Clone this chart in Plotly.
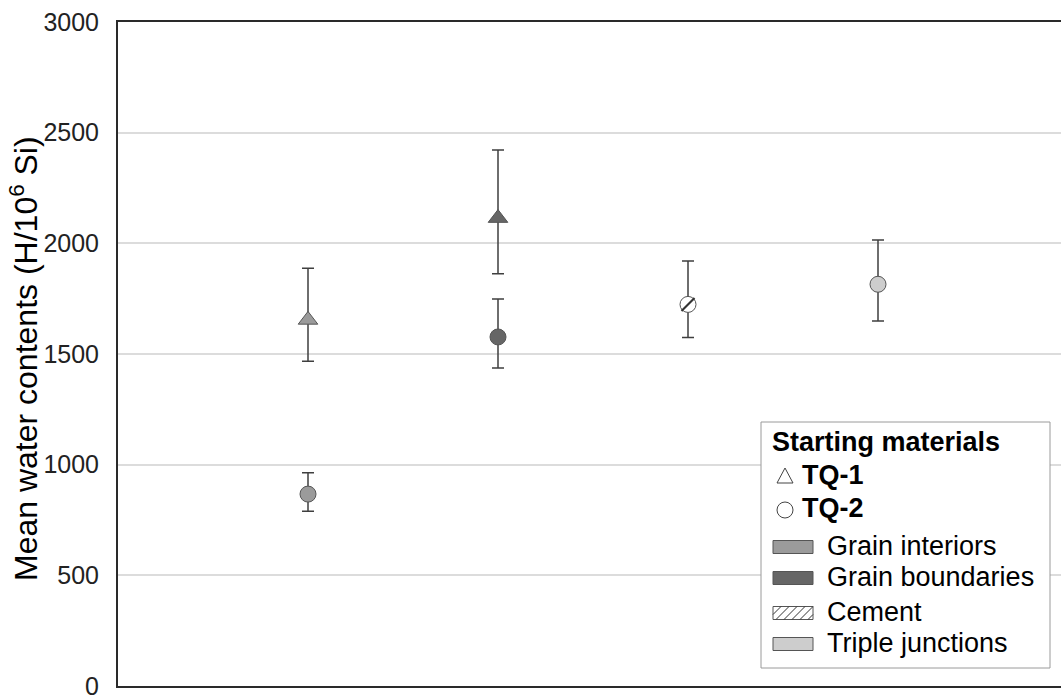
import plotly.graph_objects as go

# ---- data ----
materials = ["Grain interiors", "Grain boundaries", "Cement", "Triple junctions"]
positions = [1, 2, 3, 4]
mat_colors = ["#9b9b9b", "#666666", "#ffffff", "#cdcdcd"]

# TQ-1 (triangles): grain interiors, grain boundaries
tq1_x = [1, 2]
tq1_y = [1654, 2114]
tq1_up = [233, 308]
tq1_dn = [187, 251]
tq1_col = ["#9b9b9b", "#666666"]

# TQ-2 (circles): grain interiors, grain boundaries, cement, triple junctions
tq2_x = [1, 2, 3, 4]
tq2_y = [867, 1577, 1724, 1815]
tq2_up = [97, 171, 196, 200]
tq2_dn = [78, 140, 150, 166]
tq2_col = ["#9b9b9b", "#666666", "#ffffff", "#cdcdcd"]

y_ticks = [0, 500, 1000, 1500, 2000, 2500, 3000]

# ---- geometry helpers (layout only) ----
L, T, B, W, H = 118, 22, 9, 1061, 695
PW = W - L
PH = H - T - B

def px(x):
    return (x - L) / PW

def py(y):
    return (H - B - y) / PH

FONT = "Liberation Sans, Arial, sans-serif"
ERR_COL = "#3f3f3f"
EDGE = "#555555"
LFS = 27

fig = go.Figure()

fig.add_trace(go.Scatter(
    x=tq1_x, y=tq1_y, mode="markers",
    marker=dict(symbol="triangle-up", size=17, color=tq1_col,
                line=dict(color=EDGE, width=1)),
    error_y=dict(type="data", symmetric=False, array=tq1_up, arrayminus=tq1_dn,
                 color=ERR_COL, thickness=1.5, width=6),
    showlegend=False, name="TQ-1"))

fig.add_trace(go.Scatter(
    x=tq2_x, y=tq2_y, mode="markers",
    marker=dict(symbol="circle", size=16, color=tq2_col,
                line=dict(color=EDGE, width=1)),
    error_y=dict(type="data", symmetric=False, array=tq2_up, arrayminus=tq2_dn,
                 color=ERR_COL, thickness=1.5, width=6),
    showlegend=False, name="TQ-2"))

# hatch stroke on the cement marker
fig.add_trace(go.Scatter(
    x=[tq2_x[2]], y=[tq2_y[2]], mode="markers",
    marker=dict(symbol="line-ne", size=13, line=dict(color="#333333", width=2.2)),
    showlegend=False, hoverinfo="skip"))

shapes = []
annotations = []

# legend box
bx0, by0, bx1, by1 = 761, 422, 1050, 668
shapes.append(dict(type="rect", xref="paper", yref="paper",
                   x0=px(bx0), x1=px(bx1), y0=py(by1), y1=py(by0),
                   line=dict(color="#9a9a9a", width=1), fillcolor="white", layer="above"))

annotations.append(dict(xref="paper", yref="paper", x=px(770), y=py(442),
                        xanchor="left", yanchor="middle", showarrow=False,
                        text="<b>Starting materials</b>",
                        font=dict(family=FONT, size=LFS, color="black")))

# TQ-1 open triangle
cx, cy = 785, 476
tri = f"M {px(cx-8)} {py(cy+7)} L {px(cx+8)} {py(cy+7)} L {px(cx)} {py(cy-8)} Z"
shapes.append(dict(type="path", xref="paper", yref="paper", path=tri,
                   line=dict(color="#444444", width=1), fillcolor="white", layer="above"))
annotations.append(dict(xref="paper", yref="paper", x=px(800), y=py(475),
                        xanchor="left", yanchor="middle", showarrow=False,
                        text="<b>TQ-1</b>", font=dict(family=FONT, size=LFS, color="black")))
# TQ-2 open circle
cy = 510
shapes.append(dict(type="circle", xref="paper", yref="paper",
                   x0=px(cx-8), x1=px(cx+8), y0=py(cy+8), y1=py(cy-8),
                   line=dict(color="#444444", width=1), fillcolor="white", layer="above"))
annotations.append(dict(xref="paper", yref="paper", x=px(800), y=py(508),
                        xanchor="left", yanchor="middle", showarrow=False,
                        text="<b>TQ-2</b>", font=dict(family=FONT, size=LFS, color="black")))

# material swatches
row_y = [547, 578, 613, 644]
rx0, rx1 = 773, 813
for name, col, ry in zip(materials, mat_colors, row_y):
    shapes.append(dict(type="rect", xref="paper", yref="paper",
                       x0=px(rx0), x1=px(rx1), y0=py(ry+6.5), y1=py(ry-6.5),
                       line=dict(color="#555555", width=1), fillcolor=col, layer="above"))
    if name == "Cement":
        top, bot = ry - 6.5, ry + 6.5
        h = bot - top
        step = 8
        s = rx0 - h
        while s < rx1:
            xa, ya = s, bot
            xb, yb = s + h, top
            if xa < rx0:
                ya = bot - (rx0 - xa)
                xa = rx0
            if xb > rx1:
                yb = top + (xb - rx1)
                xb = rx1
            if xb > xa:
                shapes.append(dict(type="line", xref="paper", yref="paper",
                                   x0=px(xa), y0=py(ya), x1=px(xb), y1=py(yb),
                                   line=dict(color="#333333", width=1), layer="above"))
            s += step
    annotations.append(dict(xref="paper", yref="paper", x=px(825), y=py(ry - 1),
                            xanchor="left", yanchor="middle", showarrow=False,
                            text=name, font=dict(family=FONT, size=LFS, color="black")))

# y-axis title
annotations.append(dict(xref="paper", yref="paper", x=px(24), y=py(359),
                        xanchor="center", yanchor="middle", showarrow=False, textangle=-90,
                        text="Mean water contents (H/10<sup>6</sup> Si)",
                        font=dict(family=FONT, size=32, color="black")))

fig.update_layout(
    width=W, height=H,
    margin=dict(l=L, r=0, t=T, b=B),
    paper_bgcolor="white", plot_bgcolor="white",
    shapes=shapes, annotations=annotations,
    showlegend=False,
    xaxis=dict(range=[0, PW / 190], showgrid=False, zeroline=False,
               showticklabels=False, ticks="", automargin=False,
               showline=True, mirror=True, linecolor="#2a2a2a", linewidth=2),
    yaxis=dict(range=[0, 3000], tickvals=y_ticks, showgrid=True, gridcolor="#dcdcdc",
               gridwidth=1.5, zeroline=False, ticks="", ticklabelstandoff=12,
               automargin=False, ticklabeloverflow="allow",
               showline=True, linecolor="#2a2a2a", linewidth=2,
               tickfont=dict(family=FONT, size=25, color="#222222")),
)

fig.write_html("out.html", config={"displayModeBar": False},
               post_script="document.body.style.margin='0';document.body.style.overflow='hidden';")
